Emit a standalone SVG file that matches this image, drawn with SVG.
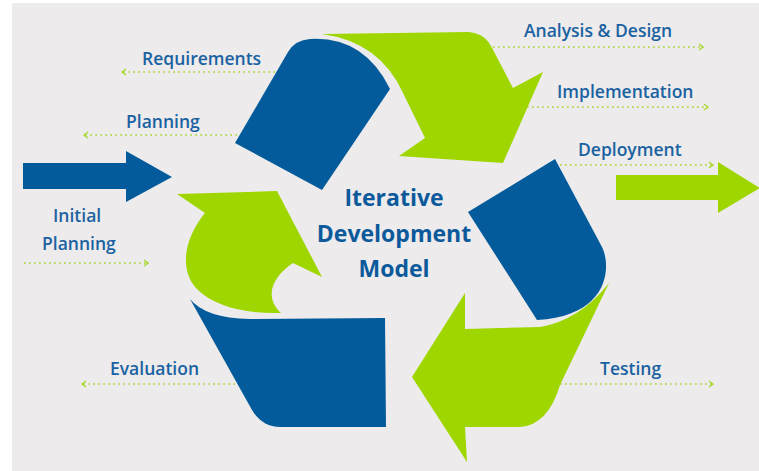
<svg xmlns="http://www.w3.org/2000/svg" width="759" height="471" viewBox="0 0 759 471">
<style>
.blue{fill:#035b9b}
.green{fill:#9fd600}
.lbl{font-family:"Open Sans","Liberation Sans",sans-serif;font-size:17.5px;font-weight:600;fill:#1a62a1}
.title{font-family:"Open Sans","Liberation Sans",sans-serif;font-size:23px;font-weight:bold;fill:#0c5a9b;text-anchor:middle}
.dot{fill:none;stroke:#a8d82e;stroke-width:1.7;stroke-dasharray:1.7 3.3;marker-end:url(#chev)}
</style>
<defs>
<marker id="chev" viewBox="0 0 6 8" refX="5" refY="4" markerWidth="6" markerHeight="8" orient="auto" markerUnits="userSpaceOnUse">
<path d="M1,1 L5,4 L1,7" fill="none" stroke="#a8d82e" stroke-width="1.4"/>
</marker>
</defs>
<rect x="12" y="3" width="747" height="468" fill="#edebec"/>

<g id="connectors">
<path class="dot" d="M275,72 H122"/>
<path class="dot" d="M237,135 H84"/>
<path class="dot" d="M24,263 H148"/>
<path class="dot" d="M235,384 H82"/>
<path class="dot" d="M488,47 H703"/>
<path class="dot" d="M527,107 H708"/>
<path class="dot" d="M560,165 H713"/>
<path class="dot" d="M560,384 H713"/>
</g>

<g id="input-arrow"><path class="blue" d="M23,163 L126,163 L126,151 L172,177 L126,202 L126,189 L23,189 Z"/></g>
<g id="output-arrow"><path class="green" d="M616,175 L718,175 L718,162 L760,188 L718,213 L718,200 L616,200 Z"/></g>

<g id="green-top"><path class="green" d="M322,34 L468,32 Q484,33 491,46 L513,88 L543,72 L503,163 L399,156 L425,138 L403,93 Q380,42 322,34 Z"/></g>
<g id="blue-top"><path class="blue" d="M235,143 L288,52 Q295,40 310,39 Q364,36 390,89 L322,190 Z"/></g>
<g id="green-right"><path class="green" d="M412,377 L465,293 L465,329 L540,327 Q580,320 609,283 L560,385 Q548,425 520,427 L465,427 L467,462 Z"/></g>
<g id="blue-right"><path class="blue" d="M555,159 L602,247 C612,268 608,316 537,320 L468,212 Z"/></g>
<g id="green-left"><path class="green" d="M205,213 L177,194 L277,191 L322,277 L293,263 C275,275 262,295 281,313 C250,314 215,308 196,288 C180,270 183,240 205,213 Z"/></g>
<g id="blue-left"><path class="blue" d="M190,299 Q205,318 250,319 L385,318 L386,427 L280,427 Q262,427 252,410 Z"/></g>

<g id="title">
<text class="title" x="394" y="206">Iterative</text>
<text class="title" x="394" y="242">Development</text>
<text class="title" x="394" y="277">Model</text>
</g>
<g id="label-requirements"><text class="lbl" x="142" y="65">Requirements</text></g>
<g id="label-planning"><text class="lbl" x="126" y="128">Planning</text></g>
<g id="label-initial-planning"><text class="lbl" x="53" y="222">Initial</text><text class="lbl" x="42" y="250">Planning</text></g>
<g id="label-evaluation"><text class="lbl" x="110" y="375">Evaluation</text></g>
<g id="label-analysis"><text class="lbl" x="524" y="37">Analysis &amp; Design</text></g>
<g id="label-implementation"><text class="lbl" x="557" y="98">Implementation</text></g>
<g id="label-deployment"><text class="lbl" x="578" y="156">Deployment</text></g>
<g id="label-testing"><text class="lbl" x="600" y="375">Testing</text></g>
</svg>
